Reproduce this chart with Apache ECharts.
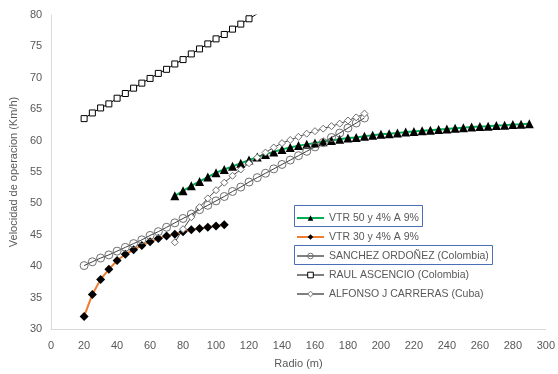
<!DOCTYPE html>
<html>
<head>
<meta charset="utf-8">
<script src="https://cdn.jsdelivr.net/npm/echarts@6/dist/echarts.min.js"></script>
<style>html,body{margin:0;padding:0;background:#fff}#c{width:558px;height:374px}</style>
</head>
<body>
<div id="c"></div>
<script>
var seriesNames = ['VTR 50 y 4% A 9%', 'VTR 30 y 4% A 9%', 'SANCHEZ ORDOÑEZ (Colombia)', 'RAUL ASCENCIO (Colombia)', 'ALFONSO J CARRERAS (Cuba)'];

var vtr50X = [75,80,85,90,95,100,105,110,115,120,125,130,135,140,145,150,155,160,165,170,175,180,185,190,195,200,205,210,215,220,225,230,235,240,245,250,255,260,265,270,275,280,285,290];
var vtr50Y = [51.2,52.0,52.8,53.5,54.2,54.9,55.4,55.9,56.4,56.9,57.4,57.8,58.2,58.6,58.9,59.2,59.4,59.6,59.8,60.0,60.2,60.4,60.5,60.7,60.85,61.0,61.1,61.2,61.35,61.45,61.55,61.65,61.75,61.85,61.95,62.05,62.15,62.25,62.3,62.4,62.45,62.55,62.6,62.7];

var vtr30X = [20,25,30,35,40,45,50,55,60,65,70,75,80,85,90,95,100,105];
var vtr30Y = [32.0,35.5,37.9,39.5,40.9,41.9,42.6,43.3,43.9,44.4,44.8,45.1,45.5,45.8,46.0,46.2,46.4,46.6];

var sanchezX = [20,25,30,35,40,45,50,55,60,65,70,75,80,85,90,95,100,105,110,115,120,125,130,135,140,145,150,155,160,165,170,175,180,185,190];
var sanchezY = [40.1,40.7,41.3,41.8,42.4,43.0,43.6,44.2,44.9,45.5,46.2,46.9,47.6,48.3,49.0,49.7,50.4,51.1,51.9,52.6,53.4,54.1,54.8,55.5,56.2,56.9,57.6,58.3,59.0,59.7,60.5,61.2,62.0,62.8,63.6];

var raulX = [20,25,30,35,40,45,50,55,60,65,70,75,80,85,90,95,100,105,110,115,120,125];
var raulY = [63.5,64.4,65.2,65.85,66.75,67.5,68.35,69.15,69.9,70.7,71.35,72.2,72.9,73.8,74.6,75.4,76.2,76.9,77.75,78.55,79.4,80.2];

var alfonsoX = [75,80,85,90,95,100,105,110,115,120,125,130,135,140,145,150,155,160,165,170,175,180,185,190];
var alfonsoY = [43.8,45.9,47.8,49.4,50.8,52.1,53.3,54.4,55.4,56.4,57.3,58.1,58.9,59.6,60.1,60.6,61.1,61.5,61.9,62.3,62.7,63.2,63.7,64.3];

var xTicks = {min: 0, max: 300, interval: 20};
var yTicks = {min: 30, max: 80, interval: 5};

function pairs(xs, ys) { return xs.map(function (x, i) { return [x, ys[i]]; }); }

var font = 'Liberation Sans, Arial, sans-serif';
var chart = echarts.init(document.getElementById('c'), null, {renderer: 'canvas'});
chart.setOption({
  animation: false,
  backgroundColor: '#fff',
  grid: {left: 51, right: 10, top: 15, bottom: 41, containLabel: false},
  xAxis: {
    type: 'value', min: xTicks.min, max: xTicks.max, interval: xTicks.interval,
    name: 'Radio (m)', nameLocation: 'middle', nameGap: 29,
    nameTextStyle: {color: '#595959', fontSize: 11, fontFamily: font},
    axisLine: {show: true, lineStyle: {color: '#d9d9d9', width: 1}},
    axisTick: {show: false},
    splitLine: {show: false},
    axisLabel: {color: '#595959', fontSize: 11, fontFamily: font, margin: 11}
  },
  yAxis: {
    type: 'value', min: yTicks.min, max: yTicks.max, interval: yTicks.interval,
    name: 'Velocidad de operacion (Km/h)', nameLocation: 'middle', nameGap: 28, nameRotate: 90,
    nameTextStyle: {color: '#595959', fontSize: 11, fontFamily: font},
    axisLine: {show: true, lineStyle: {color: '#d9d9d9', width: 1}},
    axisTick: {show: false},
    splitLine: {show: false},
    axisLabel: {color: '#595959', fontSize: 11, fontFamily: font, margin: 9}
  },
  legend: {
    orient: 'vertical', left: 296, top: 212, padding: 0,
    itemWidth: 27, itemHeight: 7, itemGap: 7,
    textStyle: {color: '#595959', fontSize: 10.5, fontFamily: font, lineHeight: 12},
    data: [
      {name: seriesNames[0]},
      {name: seriesNames[1]},
      {name: seriesNames[2], lineStyle: {width: 1, color: '#000'}, itemStyle: {color: 'rgba(255,255,255,0)', borderColor: '#6f6f6f', borderWidth: 1}},
      {name: seriesNames[3], lineStyle: {width: 1, color: '#000'}, itemStyle: {borderWidth: 1}},
      {name: seriesNames[4], lineStyle: {width: 1, color: '#000'}, itemStyle: {borderWidth: 1}}
    ]
  },
  graphic: [
    {type: 'rect', shape: {x: 294.5, y: 205.5, width: 128, height: 21}, style: {fill: 'none', stroke: '#4a6fb5', lineWidth: 1}, z: 100},
    {type: 'rect', shape: {x: 294.5, y: 245.5, width: 198, height: 19}, style: {fill: 'none', stroke: '#4a6fb5', lineWidth: 1}, z: 100}
  ],
  series: [
    {
      name: seriesNames[0], type: 'line', data: pairs(vtr50X, vtr50Y),
      symbol: 'triangle', symbolSize: 9,
      lineStyle: {color: '#00b050', width: 2},
      itemStyle: {color: '#000', borderColor: '#000', borderWidth: 0}
    },
    {
      name: seriesNames[1], type: 'line', data: pairs(vtr30X, vtr30Y),
      symbol: 'diamond', symbolSize: 9,
      lineStyle: {color: '#ed7d31', width: 2},
      itemStyle: {color: '#000', borderColor: '#000', borderWidth: 0}
    },
    {
      name: seriesNames[2], type: 'line', data: pairs(sanchezX, sanchezY),
      symbol: 'circle', symbolSize: 8,
      lineStyle: {color: '#404040', width: 1},
      itemStyle: {color: 'rgba(255,255,255,0)', borderColor: '#6f6f6f', borderWidth: 1}
    },
    {
      name: seriesNames[3], type: 'line', data: pairs(raulX, raulY), clip: true,
      symbol: 'rect', symbolSize: 6,
      lineStyle: {color: '#000', width: 1},
      itemStyle: {color: '#fff', borderColor: '#000', borderWidth: 1}
    },
    {
      name: seriesNames[4], type: 'line', data: pairs(alfonsoX, alfonsoY),
      symbol: 'diamond', symbolSize: 7,
      lineStyle: {color: '#444', width: 1},
      itemStyle: {color: '#fff', borderColor: '#6f6f6f', borderWidth: 1}
    }
  ]
});
</script>
</body>
</html>
